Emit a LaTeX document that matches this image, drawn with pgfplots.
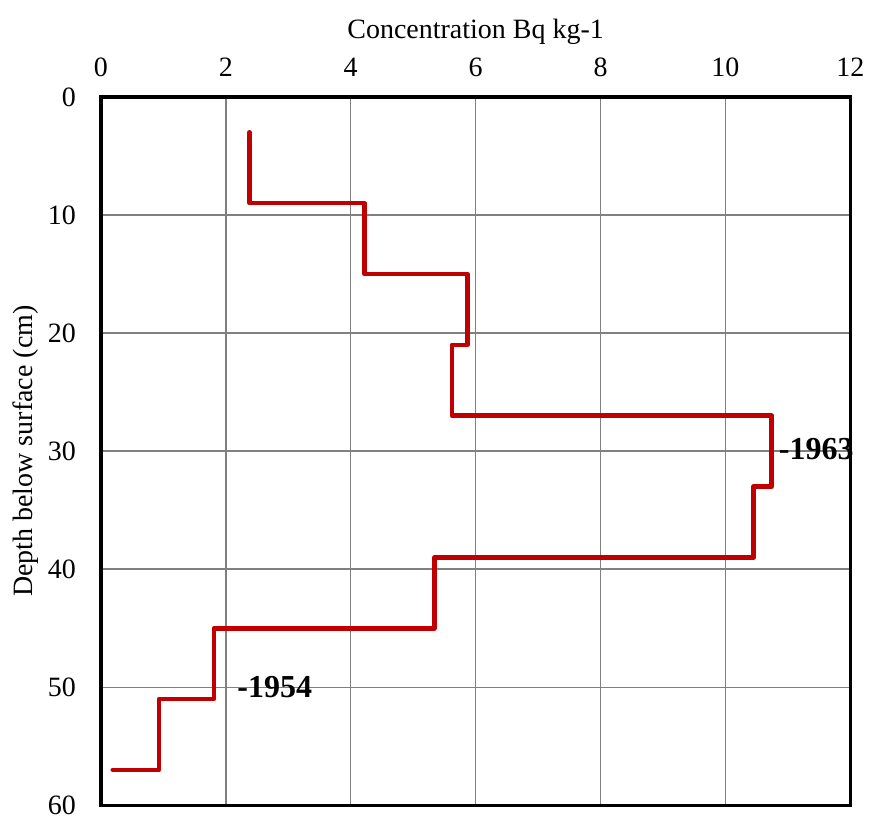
\documentclass[border=0pt]{standalone}
\usepackage{fontspec}
\setmainfont{Liberation Serif}
\usepackage{pgfplots}
\pgfplotsset{compat=1.18}
\definecolor{linered}{RGB}{192,0,0}
\definecolor{gridgray}{RGB}{128,128,128}
\begin{document}
\begin{tikzpicture}
\begin{axis}[
  scale only axis, width=375pt, height=354.5pt,
  xmin=0, xmax=12, ymin=0, ymax=60, y dir=reverse,
  xtick={0,2,...,12}, ytick={0,10,...,60},
  xticklabel pos=top,
  major tick length=0pt,
  grid=major,
  major grid style={gridgray, line width=0.75pt},
  axis line style={black, line width=1.75pt},
  /pgf/number format/assume math mode=true,
  tick label style={font=\fontsize{14}{16}\selectfont},
  xticklabel style={yshift=6.5pt},
  yticklabel style={xshift=-9pt},
  xlabel={Concentration Bq kg-1},
  ylabel={Depth below surface (cm)},
  label style={font=\fontsize{14}{16}\selectfont},
  xlabel style={at={(ticklabel cs:0.5)}, anchor=near ticklabel, yshift=0pt},
  ylabel style={at={(ticklabel cs:0.5)}, anchor=near ticklabel, yshift=-2pt},
  clip=false,
]
\addplot[linered, line width=2.3pt, line join=round, line cap=round] coordinates {
  (2.38,3) (2.38,9) (4.22,9) (4.22,15) (5.87,15) (5.87,21) (5.62,21)
  (5.62,27) (10.74,27) (10.74,33) (10.45,33) (10.45,39) (5.34,39)
  (5.34,45) (1.81,45) (1.81,51) (0.93,51) (0.93,57) (0.19,57)
};
\node[anchor=west, inner sep=0pt, font=\fontsize{16}{18}\selectfont\bfseries] at (axis cs:10.85,29.8) {-1963};
\node[anchor=west, inner sep=0pt, font=\fontsize{16}{18}\selectfont\bfseries] at (axis cs:2.18,50) {-1954};
\end{axis}
\path ([xshift=-50.5pt,yshift=-8.5pt]current axis.south west) rectangle ([xshift=10pt,yshift=48.5pt]current axis.north east);
\end{tikzpicture}
\end{document}
